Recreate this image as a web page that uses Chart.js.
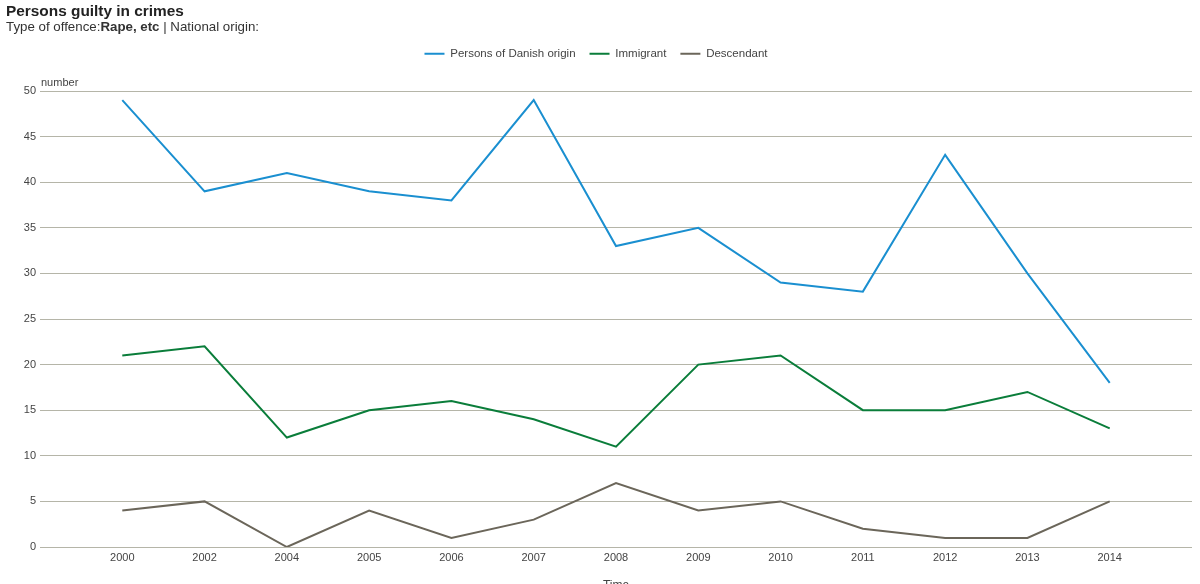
<!DOCTYPE html>
<html>
<head>
<meta charset="utf-8">
<script src="https://cdn.jsdelivr.net/npm/chart.js@4.4.1/dist/chart.umd.min.js"></script>
<style>
  html, body { margin: 0; padding: 0; background: #fff; width: 1200px; height: 584px; overflow: hidden; font-family: "Liberation Sans", Arial, sans-serif; }
  #title { position: absolute; left: 6px; top: 2px; font-size: 15.4px; font-weight: bold; color: #222; }
  #subtitle { position: absolute; left: 6px; top: 19px; font-size: 13.3px; color: #333; }
  #wrap { position: absolute; left: 0; top: 0; width: 1200px; height: 593px; }
</style>
</head>
<body>
<div id="wrap"><canvas id="c" width="1200" height="593"></canvas></div>
<div id="title">Persons guilty in crimes</div>
<div id="subtitle">Type of offence:<b>Rape, etc</b> | National origin:</div>
<script>
const years = ['2000','2002','2004','2005','2006','2007','2008','2009','2010','2011','2012','2013','2014'];
const danish = [49, 39, 41, 39, 38, 49, 33, 35, 29, 28, 43, 30, 18];
const immigrant = [21, 22, 12, 15, 16, 14, 11, 20, 21, 15, 15, 17, 13];
const descendant = [4, 5, 0, 4, 1, 3, 7, 4, 5, 2, 1, 1, 5];
const yTicks = [0, 5, 10, 15, 20, 25, 30, 35, 40, 45, 50];

const labels = [''].concat(years, ['']);
const pad = arr => [null].concat(arr, [null]);

const legendFix = {
  id: 'legendFix',
  beforeInit(chart) {
    const lg = chart.legend;
    if (lg) {
      const orig = lg.fit;
      lg.fit = function() { orig.call(this); this.height = 57; };
    }
  }
};
const numberLabel = {
  id: 'numberLabel',
  afterDraw(chart) {
    const ctx = chart.ctx, a = chart.chartArea;
    ctx.save();
    ctx.font = '11px "Liberation Sans", Arial, sans-serif';
    ctx.fillStyle = '#444';
    ctx.textAlign = 'left';
    ctx.textBaseline = 'bottom';
    ctx.fillText('number', a.left + 1, a.top - 3);
    ctx.restore();
  }
};

new Chart(document.getElementById('c'), {
  type: 'line',
  data: {
    labels: labels,
    datasets: [
      { label: 'Persons of Danish origin', data: pad(danish), borderColor: '#1a8fd0', backgroundColor: '#1a8fd0', borderWidth: 2 },
      { label: 'Immigrant', data: pad(immigrant), borderColor: '#0a7d3a', backgroundColor: '#0a7d3a', borderWidth: 2 },
      { label: 'Descendant', data: pad(descendant), borderColor: '#6b665a', backgroundColor: '#6b665a', borderWidth: 2 }
    ]
  },
  options: {
    responsive: false,
    animation: false,
    devicePixelRatio: 1,
    layout: { padding: { top: 34, left: 0, right: 8, bottom: 0 } },
    elements: { point: { radius: 0, hoverRadius: 0 }, line: { tension: 0 } },
    plugins: {
      tooltip: { enabled: false },
      legend: {
        position: 'top',
        labels: {
          usePointStyle: true, pointStyle: 'line', pointStyleWidth: 20, boxWidth: 20, boxHeight: 11,
          color: '#444', padding: 14,
          font: { family: '"Liberation Sans", Arial, sans-serif', size: 11.5 }
        }
      }
    },
    scales: {
      x: {
        type: 'category',
        offset: false,
        grid: { display: false, drawTicks: false },
        border: { display: false },
        ticks: { color: '#444', padding: 4, autoSkip: false, maxRotation: 0, font: { family: '"Liberation Sans", Arial, sans-serif', size: 11 } },
        title: { display: true, text: 'Time', color: '#444', padding: { top: 6, bottom: 0 }, font: { family: '"Liberation Sans", Arial, sans-serif', size: 12 } },
        afterFit(s) { s.height = 46; }
      },
      y: {
        min: 0, max: 50,
        afterBuildTicks(s) { s.ticks = yTicks.map(v => ({ value: v })); },
        grid: { color: '#b5b5a8', lineWidth: 1, drawTicks: false },
        border: { display: false },
        ticks: { color: '#444', padding: 4, font: { family: '"Liberation Sans", Arial, sans-serif', size: 11 } },
        afterFit(s) { s.width = 40; }
      }
    }
  },
  plugins: [legendFix, numberLabel]
});
</script>
</body>
</html>
